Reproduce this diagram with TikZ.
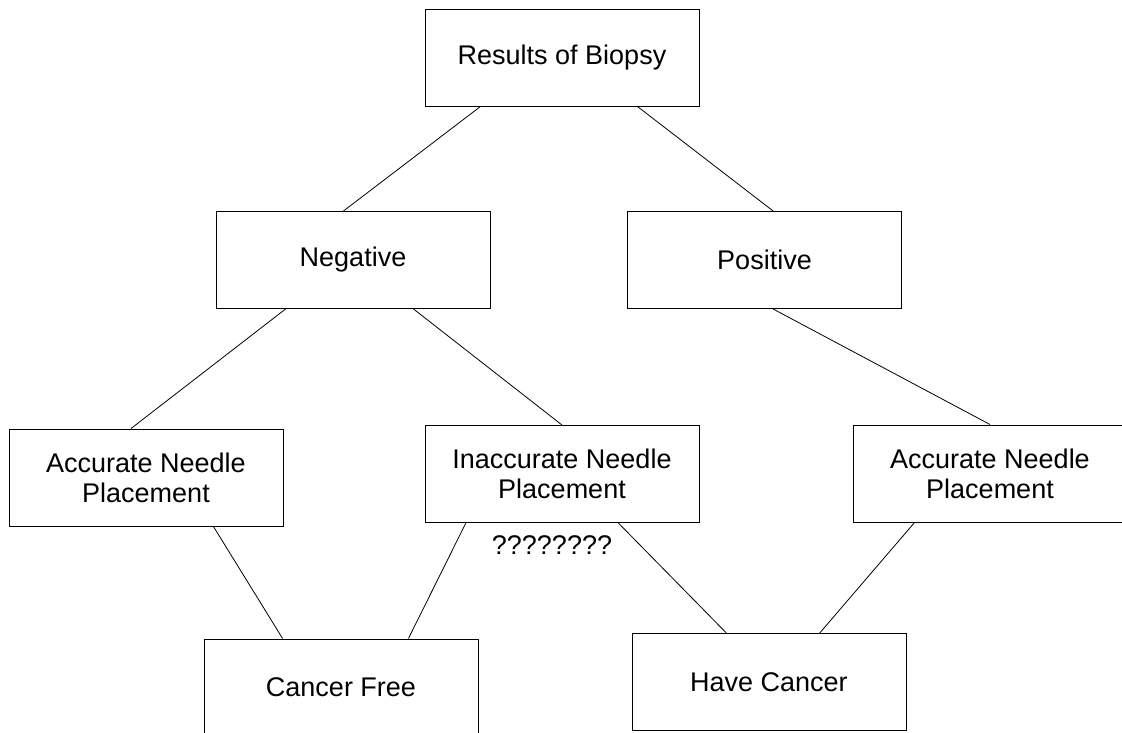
\documentclass[tikz,border=0pt]{standalone}
\usepackage{fontspec}
\setmainfont{Liberation Sans}
\usepackage{tikz}
\usetikzlibrary{positioning}

\begin{document}
\begin{tikzpicture}[
    x=1pt, y=-1pt,
    box/.style={rectangle, minimum width=274pt, minimum height=97pt, text centered, align=center, draw=black, line width=1pt, font=\fontsize{27}{30}\selectfont},
    note/.style={font=\fontsize{27}{30}\selectfont},
    link/.style={line width=0.8pt}]
\useasboundingbox (0,0) rectangle (1122,732);
\node (res) [box] at (562,57.5) {Results of Biopsy};
\node (neg) [box] at (353,260) {Negative};
\node (pos) [box] at (764.5,260) {Positive};
\node (accL) [box] at (146,477.5) {Accurate Needle\\Placement};
\node (inacc) [box] at (562,474) {Inaccurate Needle\\Placement};
\node (accR) [box] at (990,473.5) {Accurate Needle\\Placement};
\node (free) [box] at (341,687.5) {Cancer Free};
\node (have) [box] at (769,682) {Have Cancer};
\node (unknown) [note] at (552,545) {????????};
\draw [link] (res.211.5) -- (neg.101.8);
\draw [link] (res.327.1) -- (pos.80);
\draw [link] (neg.216) -- (accL.107.2);
\draw [link] (neg.321.8) -- (inacc.north);
\draw [link] (pos.280) -- (accR.north);
\draw [link] (accL.324.5) -- (free.140.6);
\draw [link] (inacc.207.3) -- (free.36.3);
\draw [link] (inacc.319.9) -- (have.131.2);
\draw [link] (accR.213.6) -- (have.44.4);
\end{tikzpicture}
\end{document}
